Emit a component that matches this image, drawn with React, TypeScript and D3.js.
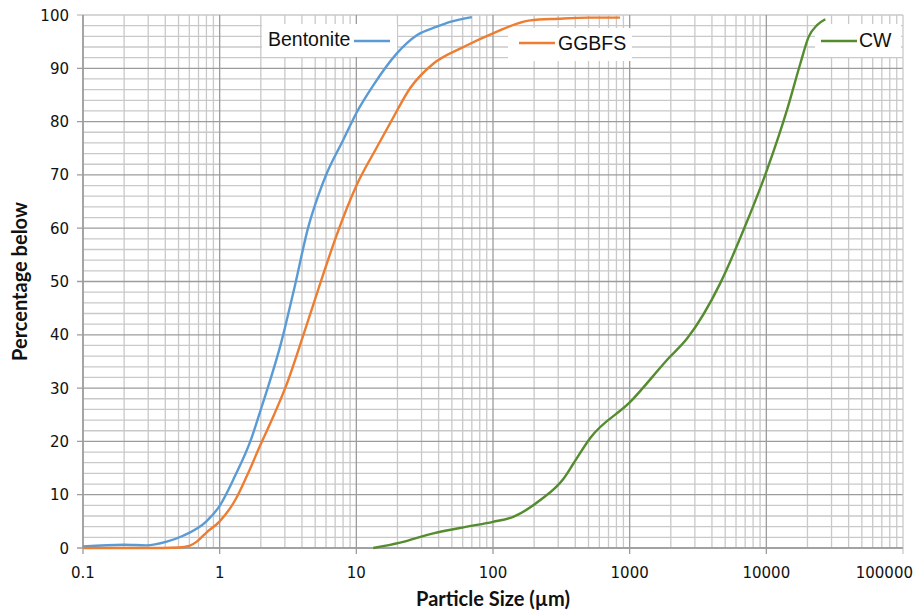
import React from "react";
import * as d3 from "d3";

// Particle size distributions (size in µm, cumulative % passing)
const bentoniteSize = [0.1, 0.2, 0.29, 0.41, 0.54, 0.8, 1.0, 1.3, 1.67, 2.03, 2.85, 3.5, 4.46, 5.28, 6.08, 8, 10.1, 13.3, 19.8, 27.7, 38.8, 48.6, 70];
const bentonitePct = [0.3, 0.6, 0.5, 1.2, 2.3, 5.0, 7.9, 13.6, 19.9, 26.5, 39, 48.5, 60.3, 66.2, 70.3, 76.5, 81.8, 86.8, 92.8, 96.2, 97.8, 98.7, 99.6];

const ggbfsSize = [0.1, 0.3, 0.5, 0.6, 0.68, 0.8, 1.0, 1.3, 1.58, 2.0, 2.5, 3.1, 4.1, 5.5, 7.2, 10.1, 14, 18.2, 24.8, 36.7, 60.8, 101, 187, 300, 500, 850];
const ggbfsPct = [0, 0, 0.1, 0.4, 1.2, 2.9, 5.0, 9.0, 13.5, 19.5, 25, 30.8, 40, 50, 58.8, 68.2, 75, 80.3, 86.3, 90.9, 94, 96.6, 99, 99.3, 99.5, 99.5];

const cwSize = [13.3, 20.9, 36.6, 64.4, 100, 142, 222, 328, 389, 513, 1009, 1926, 2630, 4605, 6820, 10100, 14170, 17740, 20400, 23500, 27000];
const cwPct = [0, 1.0, 2.75, 4.0, 4.9, 5.9, 9.0, 13.0, 15.9, 20.6, 27.4, 35.6, 39.3, 49.7, 59.7, 70.9, 82.2, 90.9, 95.9, 98.1, 99.2];

const seriesNames = ["Bentonite", "GGBFS", "CW"];
const seriesColors = ["#5b9bd5", "#ed7d31", "#548c2f"];

const xTickValues = [0.1, 1, 10, 100, 1000, 10000, 100000];
const xTickLabels = ["0.1", "1", "10", "100", "1000", "10000", "100000"];
const yTickValues = [0, 10, 20, 30, 40, 50, 60, 70, 80, 90, 100];

const W = 916;
const H = 613;
const plot = { left: 83, right: 903, top: 15, bottom: 548 };

export default function App() {
  const x = d3.scaleLog().domain([0.1, 100000]).range([plot.left, plot.right]);
  const y = d3.scaleLinear().domain([0, 100]).range([plot.bottom, plot.top]);

  const series = [
    { name: seriesNames[0], color: seriesColors[0], pts: bentoniteSize.map((s, i) => [s, bentonitePct[i]] as [number, number]) },
    { name: seriesNames[1], color: seriesColors[1], pts: ggbfsSize.map((s, i) => [s, ggbfsPct[i]] as [number, number]) },
    { name: seriesNames[2], color: seriesColors[2], pts: cwSize.map((s, i) => [s, cwPct[i]] as [number, number]) },
  ];

  const line = d3
    .line<[number, number]>()
    .x((d) => x(d[0]))
    .y((d) => y(d[1]))
    .curve(d3.curveMonotoneX);

  // log-scale minor grid: 2..9 within each decade
  const minorX: number[] = [];
  for (let e = -1; e < 5; e++) {
    for (let k = 2; k <= 9; k++) minorX.push(k * Math.pow(10, e));
  }
  const minorY = d3.range(2, 100, 2).filter((v) => v % 10 !== 0);

  const minorColor = "#c9c9c9";
  const majorColor = "#9c9c9c";

  // in-plot legend boxes: [box x0, box y0, box w, box h], line segment and text placement
  const legends = [
    { i: 0, box: [262, 24, 135, 33], text: { x: 268, y: 46 }, seg: [354, 390, 41] },
    { i: 1, box: [508, 28, 124, 33], text: { x: 558, y: 50 }, seg: [519, 555, 43] },
    { i: 2, box: [815, 24, 86, 33], text: { x: 859, y: 47 }, seg: [821, 857, 41] },
  ];

  const lastTick = xTickValues.length - 1;

  return (
    <svg
      width={W}
      height={H}
      style={{ position: "absolute", left: 0, top: 0, background: "#fff" }}
    >
      <rect x={0} y={0} width={W} height={H} fill="#fff" />
      {/* minor grid */}
      {minorY.map((v) => (
        <line key={"my" + v} x1={plot.left} x2={plot.right} y1={y(v)} y2={y(v)} stroke={minorColor} strokeWidth={1.3} />
      ))}
      {minorX.map((v) => (
        <line key={"mx" + v} x1={x(v)} x2={x(v)} y1={plot.top} y2={plot.bottom} stroke={minorColor} strokeWidth={1.3} />
      ))}
      {/* major grid with outside ticks */}
      {yTickValues.map((v) => (
        <line key={"gy" + v} x1={plot.left - 6} x2={plot.right} y1={y(v)} y2={y(v)} stroke={v === 100 ? minorColor : majorColor} strokeWidth={1.3} />
      ))}
      {xTickValues.map((v) => (
        <line key={"gx" + v} x1={x(v)} x2={x(v)} y1={plot.top} y2={plot.bottom + 6} stroke={v === 100000 ? minorColor : majorColor} strokeWidth={1.3} />
      ))}
      <line x1={plot.left} x2={plot.left} y1={plot.top} y2={plot.bottom} stroke={majorColor} strokeWidth={1.5} />
      <line x1={plot.left} x2={plot.right} y1={plot.bottom} y2={plot.bottom} stroke={majorColor} strokeWidth={1.5} />

      {/* tick labels */}
      {yTickValues.map((v) => (
        <text key={"ty" + v} x={69} y={y(v) + 5.5} textAnchor="end" fontFamily="DejaVu Sans" fontSize={15} fill="#111">
          {v}
        </text>
      ))}
      {xTickValues.map((v, i) => (
        <text
          key={"tx" + v}
          x={i === lastTick ? 913 : x(v)}
          y={578}
          textAnchor={i === lastTick ? "end" : "middle"}
          fontFamily="DejaVu Sans"
          fontSize={15}
          fill="#111"
        >
          {xTickLabels[i]}
        </text>
      ))}

      {/* axis titles */}
      <text x={(plot.left + plot.right) / 2} y={606} textAnchor="middle" fontFamily="Lato" fontWeight="bold" fontSize={20} fill="#111">
        Particle Size (µm)
      </text>
      <text
        transform={`translate(27, ${(plot.top + plot.bottom) / 2}) rotate(-90)`}
        textAnchor="middle"
        fontFamily="Lato"
        fontWeight="bold"
        fontSize={20}
        fill="#111"
      >
        Percentage below
      </text>

      {/* legend boxes sit above the grid, below the curves */}
      {legends.map((l) => (
        <rect key={"lb" + l.i} x={l.box[0]} y={l.box[1]} width={l.box[2]} height={l.box[3]} fill="#fff" />
      ))}

      {/* curves */}
      {series.map((s) => (
        <path key={s.name} d={line(s.pts) || ""} fill="none" stroke={s.color} strokeWidth={2.4} strokeLinejoin="round" />
      ))}

      {/* legend labels */}
      {legends.map((l) => (
        <g key={"lg" + l.i}>
          <line x1={l.seg[0]} x2={l.seg[1]} y1={l.seg[2]} y2={l.seg[2]} stroke={seriesColors[l.i]} strokeWidth={2.4} />
          <text x={l.text.x} y={l.text.y} fontFamily="Liberation Sans" fontSize={19.5} fill="#111">
            {seriesNames[l.i]}
          </text>
        </g>
      ))}
    </svg>
  );
}
